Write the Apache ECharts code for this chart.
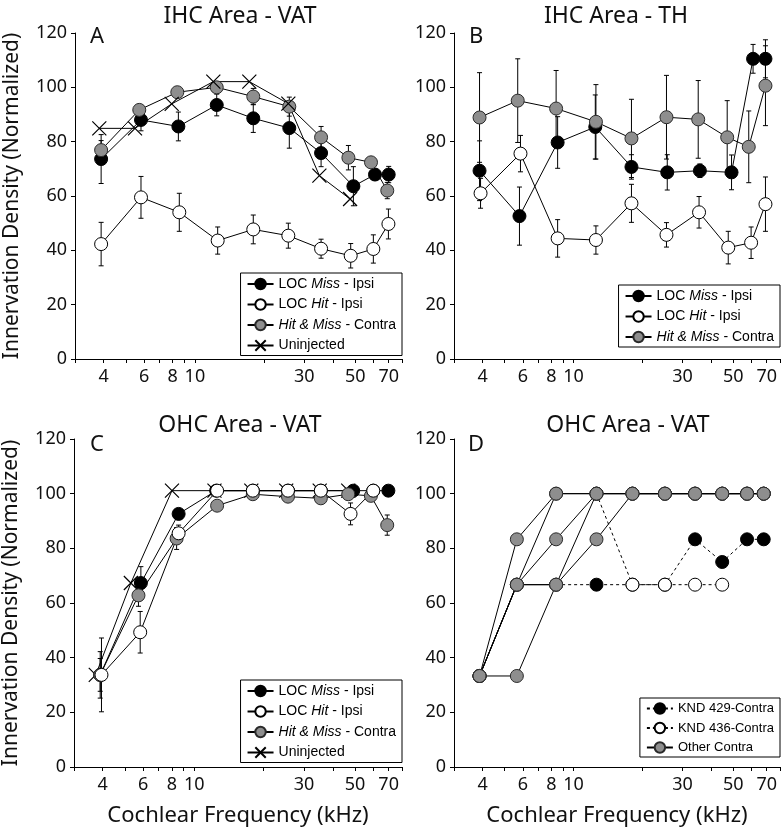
<!DOCTYPE html>
<html><head><meta charset="utf-8">
<script src="https://cdn.jsdelivr.net/npm/echarts@6/dist/echarts.min.js"></script>
<style>html,body{margin:0;padding:0;background:#fff}#c{width:781px;height:828px}</style>
</head><body><div id="c"></div>
<script>
// ---------------- DATA ----------------
const xTickValues = [3, 4, 5, 6, 7, 8, 9, 10, 20, 30, 40, 50, 60, 70, 80];
const xTickLabels = [4, 6, 8, 10, 30, 50, 70];
const xMin = 3, xMax = 80;

const panelTitles = ['IHC Area - VAT', 'IHC Area - TH', 'OHC Area - VAT', 'OHC Area - VAT'];
const panelLetters = ['A', 'B', 'C', 'D'];
const yName = 'Innervation Density (Normalized)';
const xName = 'Cochlear Frequency (kHz)';

// Panel A : IHC Area - VAT
const aMissX = [3.9, 5.82, 8.47, 12.45, 17.97, 25.8, 35.5, 49.1, 61, 70];
const aMissY = [73.6, 88.0, 85.6, 93.5, 88.6, 85.0, 75.8, 63.6, 67.9, 67.9];
const aMissE = [9, 4, 5.3, 4, 5.2, 7.4, 5, 7.2, 2, 3];
const aHitX = [3.9, 5.82, 8.55, 12.57, 17.97, 25.55, 35.5, 47.8, 60, 69.8];
const aHitY = [42.3, 59.5, 54.0, 43.6, 47.7, 45.4, 40.6, 38.0, 40.5, 49.7];
const aHitE = [8, 7.7, 7, 5, 5.3, 4.6, 3.5, 4.5, 5.2, 5.5];
const aConX = [3.9, 5.72, 8.38, 12.45, 17.97, 25.8, 35.5, 46.7, 58.6, 69];
const aConY = [76.9, 91.7, 98.2, 100, 96.6, 92.9, 81.6, 74.1, 72.4, 62.0];
const aConE = [3.5, 2, 0, 0, 3, 3.5, 4, 4.5, 1, 3];
const aUniX = [3.83, 5.48, 7.92, 12.03, 17.27, 25.55, 34.9, 47.5];
const aUniY = [84.9, 84.9, 93.9, 102.1, 102.1, 94.0, 67.5, 58.9];

// Panel B : IHC Area - TH
const bMissX = [3.88, 5.80, 8.52, 12.45, 17.92, 25.7, 35.7, 49.1, 61.0, 69.1];
const bMissY = [69.3, 52.6, 79.7, 85.4, 70.7, 68.7, 69.3, 68.7, 110.5, 110.5];
const bMissE = [11, 10.7, 9.5, 11.8, 4.5, 6.5, 2.5, 6.4, 5.3, 7];
const bHitX = [3.92, 5.86, 8.52, 12.53, 17.92, 25.5, 35.4, 47.5, 59.8, 69.1];
const bHitY = [61.0, 75.6, 44.4, 43.8, 57.3, 45.7, 54.0, 41.0, 42.8, 57.0];
const bHitE = [5.5, 6.7, 6.9, 5.2, 7, 4.5, 5.8, 6, 5.8, 10];
const bConX = [3.88, 5.70, 8.39, 12.53, 17.92, 25.5, 35.1, 47.0, 58.4, 69.1];
const bConY = [88.9, 95.1, 92.2, 87.3, 81.2, 89.0, 88.2, 81.6, 78.1, 100.6];
const bConE = [16.5, 15.4, 14, 13.7, 14.4, 15.4, 14.3, 13.5, 13.2, 14.7];

// Panel C : OHC Area - VAT
const cMissX = [3.9, 5.86, 8.55, 12.45, 17.97, 25.55, 35.5, 49.1, 60, 69.8];
const cMissY = [33.7, 67.3, 92.6, 101.1, 101.1, 101.1, 101.1, 101.1, 101.1, 101.1];
const cMissE = [8.5, 6, 0, 0, 0, 0, 0, 0, 0, 0];
const cHitX = [3.95, 5.82, 8.55, 12.57, 17.97, 25.55, 35.5, 47.8, 60];
const cHitY = [33.7, 49.3, 85.5, 101.1, 101.1, 101.1, 101.1, 92.6, 101.1];
const cHitE = [13.5, 7.6, 3, 0, 0, 0, 0, 4, 0];
const cConX = [3.9, 5.72, 8.38, 12.57, 17.97, 25.55, 35.5, 46.7, 58.6, 69];
const cConY = [33.7, 62.8, 83.6, 95.6, 99.8, 98.9, 98.3, 99.8, 99.2, 88.5];
const cConE = [6, 4, 4, 0, 0, 0, 0, 0, 0, 3.7];
const cUniX = [3.73, 5.30, 8.0, 12.24, 17.7, 25.1, 35.1, 46.7];
const cUniY = [33.7, 67.3, 101.1, 101.1, 101.1, 101.1, 101.1, 101.1];

// Panel D : OHC Area - VAT (individual animals)
const dX = [3.88, 5.65, 8.39, 12.6, 18.1, 25.1, 34.0, 44.7, 57.4, 67.9];
const dOther1 = [33.3, 83.3, 100, 100, 100, 100, 100, 100, 100, 100];
const dOther2 = [33.3, 66.7, 100, 100, 100, 100, 100, 100, 100, 100];
const dOther3 = [33.3, 66.7, 83.3, 100, 100, 100, 100, 100, 100, 100];
const dOther4 = [33.3, 33.3, 66.7, 83.3, 100, 100, 100, 100, 100, 100];
const dKnd436Low = [33.3, 66.7, 66.7, 100, null, null, null, null, null, null];
const dKnd429Low = [33.3, 66.7, 66.7, null, null, null, null, null, null, null];
// dashed parts; first non-null value is the joining point (drawn without marker)
const dKnd429 = [null, null, 66.7, 66.7, 66.7, 66.7, 83.3, 75, 83.3, 83.3];
const dKnd436 = [null, null, null, 100, 66.7, 66.7, 66.7, 66.7, null, null];

// ---------------- BUILD ----------------
const FONT = 'Noto Sans';
const LFONT = 'Liberation Sans';
const lg = v => Math.log10(v);

const STY = {
  miss: { symbol: 'circle', symbolSize: 13, itemStyle: { color: '#000', borderColor: '#000', borderWidth: 1 } },
  hit: { symbol: 'circle', symbolSize: 13, itemStyle: { color: '#fff', borderColor: '#000', borderWidth: 1 } },
  con: { symbol: 'circle', symbolSize: 13, itemStyle: { color: '#8e8e8e', borderColor: '#2a2a2a', borderWidth: 1 } },
  uni: { symbol: 'path://M0,0L10,10M10,0L0,10', symbolSize: 14, itemStyle: { color: '#000', borderColor: '#000', borderWidth: 1.2 } }
};

function line(name, gi, xs, ys, sty, extra) {
  const data = [];
  xs.forEach((x, i) => { if (ys[i] != null) data.push([lg(x), ys[i]]); });
  return Object.assign({
    name, type: 'line', xAxisIndex: gi, yAxisIndex: gi, data,
    symbol: sty.symbol, symbolSize: sty.symbolSize, itemStyle: sty.itemStyle,
    lineStyle: { color: '#000', width: 1 }, z: 3, animation: false, silent: true
  }, extra || {});
}

function dashed(name, gi, xs, ys, sty) {
  const data = [];
  let first = true;
  xs.forEach((x, i) => {
    if (ys[i] == null) return;
    if (first) { data.push({ value: [lg(x), ys[i]], symbol: 'none' }); first = false; }
    else data.push([lg(x), ys[i]]);
  });
  return {
    name, type: 'line', xAxisIndex: gi, yAxisIndex: gi, data,
    symbol: sty.symbol, symbolSize: sty.symbolSize, itemStyle: sty.itemStyle,
    lineStyle: { color: '#000', width: 1, type: [3, 3] }, z: 3, animation: false, silent: true
  };
}

function errBars(gi, xs, ys, es) {
  const data = [];
  xs.forEach((x, i) => { if (es[i] > 0) data.push([lg(x), ys[i], es[i]]); });
  return {
    type: 'custom', xAxisIndex: gi, yAxisIndex: gi, z: 2, silent: true, animation: false,
    encode: { x: 0, y: 1 }, data,
    renderItem(params, api) {
      const x = api.value(0), y = api.value(1), e = api.value(2);
      const t = api.coord([x, y + e]), b = api.coord([x, y - e]);
      const w = 2.5, st = { stroke: '#000', lineWidth: 1 };
      return { type: 'group', children: [
        { type: 'line', shape: { x1: t[0], y1: t[1], x2: b[0], y2: b[1] }, style: st },
        { type: 'line', shape: { x1: t[0] - w, y1: t[1], x2: t[0] + w, y2: t[1] }, style: st },
        { type: 'line', shape: { x1: b[0] - w, y1: b[1], x2: b[0] + w, y2: b[1] }, style: st }
      ] };
    }
  };
}

const grids = [
  { left: 75, top: 33, width: 327, height: 326 },
  { left: 454, top: 33, width: 326, height: 326 },
  { left: 74, top: 439, width: 328, height: 328 },
  { left: 454, top: 439, width: 326, height: 328 }
];

const xAxes = grids.map((g, i) => ({
  type: 'value', gridIndex: i, min: lg(xMin), max: lg(xMax),
  axisLine: { show: true, onZero: false, lineStyle: { color: '#000', width: 1 } },
  axisTick: { show: true, customValues: xTickValues.map(lg), length: 4, lineStyle: { color: '#000' } },
  axisLabel: { customValues: xTickLabels.map(lg), formatter: v => String(Math.round(Math.pow(10, v))),
    fontSize: 18, fontFamily: FONT, color: '#111', margin: 9 },
  splitLine: { show: false },
  name: i >= 2 ? xName : '', nameLocation: 'middle', nameGap: 38,
  nameTextStyle: { fontSize: 22, fontFamily: FONT, color: '#111' }
}));

const yAxes = grids.map((g, i) => ({
  type: 'value', gridIndex: i, min: 0, max: 120, interval: 20,
  axisLine: { show: true, onZero: false, lineStyle: { color: '#000', width: 1 } },
  axisTick: { show: true, length: 4, lineStyle: { color: '#000' } },
  axisLabel: { fontSize: 18, fontFamily: FONT, color: '#111', margin: 8 },
  splitLine: { show: false },
  name: (i % 2 === 0) ? yName : '', nameLocation: 'middle', nameGap: 52,
  nameTextStyle: { fontSize: 21, fontFamily: FONT, color: '#111' }
}));

const series = [
  // A
  errBars(0, aMissX, aMissY, aMissE), errBars(0, aHitX, aHitY, aHitE), errBars(0, aConX, aConY, aConE),
  line('LOC Miss - Ipsi', 0, aMissX, aMissY, STY.miss),
  line('LOC Hit - Ipsi', 0, aHitX, aHitY, STY.hit),
  line('Hit & Miss - Contra', 0, aConX, aConY, STY.con),
  line('Uninjected', 0, aUniX, aUniY, STY.uni),
  // B
  errBars(1, bMissX, bMissY, bMissE), errBars(1, bHitX, bHitY, bHitE), errBars(1, bConX, bConY, bConE),
  line('LOC Miss - Ipsi', 1, bMissX, bMissY, STY.miss),
  line('LOC Hit - Ipsi', 1, bHitX, bHitY, STY.hit),
  line('Hit & Miss - Contra', 1, bConX, bConY, STY.con),
  // C
  errBars(2, cMissX, cMissY, cMissE), errBars(2, cHitX, cHitY, cHitE), errBars(2, cConX, cConY, cConE),
  line('Uninjected', 2, cUniX, cUniY, STY.uni),
  line('LOC Miss - Ipsi', 2, cMissX, cMissY, STY.miss),
  line('Hit & Miss - Contra', 2, cConX, cConY, STY.con),
  line('LOC Hit - Ipsi', 2, cHitX, cHitY, STY.hit),
  // D
  dashed('KND 429-Contra', 3, dX, dKnd429, STY.miss),
  dashed('KND 436-Contra', 3, dX, dKnd436, STY.hit),
  line('Other Contra', 3, dX, dOther1, STY.con),
  line('Other Contra', 3, dX, dOther2, STY.con),
  line('Other Contra', 3, dX, dOther3, STY.con),
  line('Other Contra', 3, dX, dOther4, STY.con),
  line('Other Contra', 3, dX, dKnd436Low, STY.con),
  line('Other Contra', 3, dX, dKnd429Low, STY.con)
];

function fmt(n) {
  if (n === 'LOC Miss - Ipsi') return '{n|LOC }{i|Miss}{n| - Ipsi}';
  if (n === 'LOC Hit - Ipsi') return '{n|LOC }{i|Hit}{n| - Ipsi}';
  if (n === 'Hit & Miss - Contra') return '{i|Hit & Miss}{n| - Contra}';
  return '{n|' + n + '}';
}
function legend(names, pos, fs) {
  return Object.assign({
    orient: 'vertical', data: names, selectedMode: false, formatter: fmt,
    itemWidth: 26, itemHeight: 13, itemGap: 6.5, padding: [4, 6, 3, 6],
    borderColor: '#000', borderWidth: 1, backgroundColor: '#fff', borderRadius: 0,
    textStyle: { color: '#000', fontSize: fs, fontFamily: LFONT,
      rich: { n: { fontSize: fs, fontFamily: LFONT, color: '#000' },
              i: { fontSize: fs, fontFamily: LFONT, color: '#000', fontStyle: 'italic' } } }
  }, pos);
}
const legends = [
  legend(['LOC Miss - Ipsi', 'LOC Hit - Ipsi', 'Hit & Miss - Contra', 'Uninjected'], { right: 379, top: 273 }, 14),
  legend(['LOC Miss - Ipsi', 'LOC Hit - Ipsi', 'Hit & Miss - Contra'], { right: 1, top: 285 }, 14),
  legend(['LOC Miss - Ipsi', 'LOC Hit - Ipsi', 'Hit & Miss - Contra', 'Uninjected'], { right: 379, top: 680 }, 14),
  legend(['KND 429-Contra', 'KND 436-Contra', 'Other Contra'], { right: 1, top: 698 }, 13)
];

const titlePos = [[240, 16], [616, 16], [240, 425], [628, 425]];
const letterPos = [[90, 37], [469, 37], [90, 445], [468, 445]];
const graphics = [];
panelTitles.forEach((t, i) => graphics.push({ type: 'text', silent: true,
  style: { text: t, x: titlePos[i][0], y: titlePos[i][1], align: 'center', verticalAlign: 'middle',
    fontSize: 23, fontFamily: FONT, fill: '#111' } }));
panelLetters.forEach((t, i) => graphics.push({ type: 'text', silent: true,
  style: { text: t, x: letterPos[i][0], y: letterPos[i][1], align: 'left', verticalAlign: 'middle',
    fontSize: 22, fontFamily: FONT, fill: '#111' } }));

const chart = echarts.init(document.getElementById('c'), null, { renderer: 'canvas' });
chart.setOption({
  animation: false, backgroundColor: '#fff',
  grid: grids, xAxis: xAxes, yAxis: yAxes, series, legend: legends, graphic: graphics
});
</script></body></html>
